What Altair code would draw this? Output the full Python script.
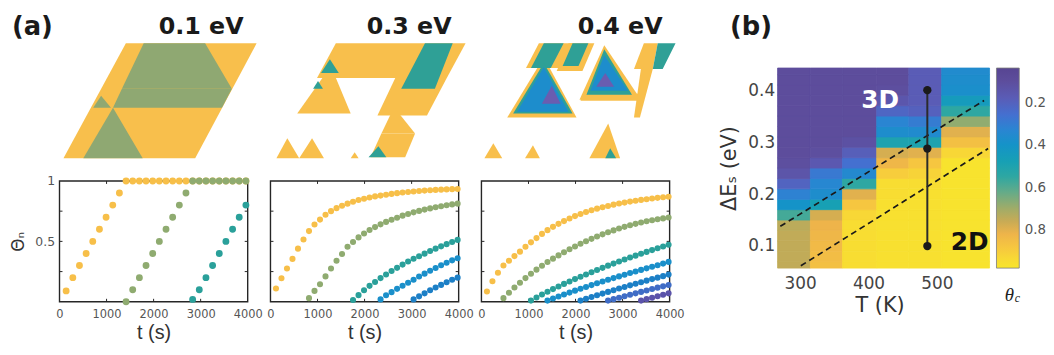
import altair as alt
import pandas as pd

SANS = "DejaVu Sans"
ARIAL = "Liberation Sans"

# ---------------- panel (a): growth curves ----------------
P1_T = [141, 283, 424, 566, 707, 849, 990, 1132, 1273, 1415, 1556, 1698, 1839, 1981,
        2122, 2264, 2405, 2547, 2688, 2830, 2971, 3113, 3254, 3396, 3537, 3679, 3820, 3962]
P1_YELLOW = [0.09, 0.2, 0.3, 0.4, 0.5, 0.6, 0.7, 0.8, 0.9, 1.0, 1.0, 1.0, 1.0, 1.0,
             1.0, 1.0, 1.0, 1.0, 1.0, 1.0, 1.0, 1.0, 1.0, 1.0, 1.0, 1.0, 1.0, 1.0]
P1_GREEN = [None] * 9 + [0.0, 0.1, 0.2, 0.3, 0.4, 0.5, 0.6, 0.7, 0.8, 0.9, 1.0,
                         1.0, 1.0, 1.0, 1.0, 1.0, 1.0, 1.0, 1.0]
P1_TEAL = [None] * 19 + [0.02, 0.1, 0.2, 0.3, 0.4, 0.5, 0.6, 0.7, 0.8]

P23_T = [117, 234, 351, 468, 585, 702, 819, 936, 1053, 1170, 1287, 1404, 1521, 1638,
         1755, 1872, 1989, 2106, 2223, 2340, 2457, 2574, 2691, 2808, 2925, 3042, 3159,
         3276, 3393, 3510, 3627, 3744, 3861, 3978]
P2_YELLOW = [0.11, 0.195, 0.275, 0.355, 0.44, 0.515, 0.585, 0.64, 0.68, 0.72, 0.75, 0.775,
             0.795, 0.812, 0.828, 0.842, 0.853, 0.863, 0.872, 0.879, 0.886, 0.893, 0.899,
             0.904, 0.909, 0.913, 0.917, 0.92, 0.923, 0.926, 0.928, 0.93, 0.932, 0.934]
P2_GREEN = [None] * 6 + [0.03, 0.09, 0.145, 0.21, 0.275, 0.34, 0.395, 0.455, 0.495, 0.533,
                         0.565, 0.594, 0.618, 0.641, 0.661, 0.679, 0.696, 0.713, 0.727,
                         0.74, 0.752, 0.763, 0.773, 0.782, 0.791, 0.799, 0.806, 0.812]
P2_TEAL = [None] * 14 + [0.015, 0.055, 0.095, 0.132, 0.164, 0.196, 0.226, 0.255, 0.281,
                         0.308, 0.333, 0.356, 0.377, 0.399, 0.42, 0.44, 0.459, 0.477,
                         0.495, 0.512]
P2_BLUE1 = [None] * 19 + [0.02, 0.054, 0.08, 0.107, 0.133, 0.158, 0.183, 0.209, 0.233,
                          0.257, 0.28, 0.302, 0.323, 0.343, 0.36]
P2_BLUE2 = [None] * 25 + [0.02, 0.045, 0.07, 0.095, 0.118, 0.14, 0.162, 0.183, 0.2]

P3_YELLOW = [0.085, 0.17, 0.24, 0.3, 0.34, 0.378, 0.415, 0.455, 0.492, 0.527, 0.562, 0.593,
             0.62, 0.645, 0.668, 0.689, 0.709, 0.726, 0.743, 0.757, 0.771, 0.782, 0.793,
             0.804, 0.813, 0.821, 0.829, 0.836, 0.843, 0.849, 0.855, 0.86, 0.865, 0.869]
P3_GREEN = [None] * 3 + [0.03, 0.075, 0.118, 0.158, 0.196, 0.232, 0.266, 0.298, 0.329,
                         0.357, 0.384, 0.41, 0.435, 0.458, 0.48, 0.501, 0.521, 0.54, 0.558,
                         0.575, 0.591, 0.606, 0.62, 0.633, 0.645, 0.656, 0.666, 0.675,
                         0.683, 0.69, 0.697]
P3_TEAL = [None] * 8 + [0.01, 0.035, 0.06, 0.083, 0.105, 0.127, 0.148, 0.168, 0.188, 0.207,
                        0.226, 0.245, 0.263, 0.281, 0.299, 0.316, 0.333, 0.35, 0.366, 0.382,
                        0.398, 0.413, 0.428, 0.443, 0.458, 0.472]
P3_BLUE1 = [None] * 11 + [0.01, 0.027, 0.044, 0.06, 0.076, 0.092, 0.108, 0.123, 0.138,
                          0.153, 0.168, 0.182, 0.196, 0.21, 0.224, 0.238, 0.251, 0.264,
                          0.277, 0.29, 0.303, 0.316, 0.33]
P3_BLUE2 = [None] * 17 + [0.01, 0.025, 0.04, 0.054, 0.068, 0.082, 0.096, 0.11, 0.123,
                          0.136, 0.149, 0.162, 0.175, 0.188, 0.2, 0.212, 0.225]
P3_BLUE3 = [None] * 22 + [0.01, 0.022, 0.034, 0.046, 0.058, 0.07, 0.082, 0.094, 0.106,
                          0.117, 0.128, 0.139]
P3_PURPLE = [None] * 28 + [0.01, 0.022, 0.034, 0.046, 0.058, 0.07]

SERIES_COLORS = {"yellow": "#f7bf49", "green": "#8fab70", "teal": "#2aa09a",
                 "blue1": "#1a8fca", "blue2": "#1c7fc6", "blue3": "#3f6cc6",
                 "purple": "#5b53aa"}

T_TICKS = [0, 1000, 2000, 3000, 4000]
T_INNER = [1000, 2000, 3000]
THETA_LABELS = [0.5, 1.0]
THETA_INNER = [0.25, 0.5, 0.75]
PANEL_LABELS = ["(a)", "(b)"]
MORPH_TITLES = ["0.1 eV", "0.3 eV", "0.4 eV"]

# ---------------- panel (a): morphologies (trapezoid pieces, image units) ----------------
# level: 0 yellow, 1 green, 2 teal, 3 blue, 4 purple
M1_LEVEL = [0, 1, 1, 1, 1]
M1_YT = [30, 30, 76, 83, 95]
M1_XLT = [67, 85, 63, 42, 54]
M1_XRT = [199, 147, 174, 42, 54]
M1_YB = [146, 76, 95, 95, 146]
M1_XLB = [4, 63, 54, 34, 24]
M1_XRB = [137, 174, 164, 52, 84]

M2_LEVEL = [0, 0, 0, 0, 0, 0, 0, 0, 2, 2, 2, 2]
M2_YT = [30, 65, 53, 96, 121, 126, 126, 140, 30, 46, 68, 134]
M2_XLT = [66, 126, 61, 124, 112, 17, 42, 85, 156, 60, 48, 109]
M2_XRT = [197, 178, 61, 126, 146, 17, 42, 85, 184, 60, 48, 109]
M2_YB = [65, 103, 101, 121, 145, 146, 146, 146, 76, 60, 76, 145]
M2_XLB = [47, 108, 27, 112, 101, 6, 29, 81, 132, 51, 43, 99]
M2_XRB = [178, 158, 81, 146, 136, 29, 54, 89, 166, 69, 53, 117]

M3_LEVEL = [0, 0, 0, 0, 0, 0, 0, 0, 0, 0, 2, 2, 2, 2, 2, 2, 3, 3, 4, 4]
M3_YT = [30, 44, 30, 32, 81, 30, 56, 131, 133, 111, 30, 50, 30, 36, 30, 136, 54, 42, 73, 60]
M3_XLT = [58, 63, 88, 124, 103, 164, 161, 12, 52, 128, 63, 63, 92, 124, 178, 130, 63, 124, 71, 125]
M3_XRT = [93, 63, 114, 124, 164, 178, 173, 12, 52, 128, 83, 63, 108, 124, 196, 130, 63, 124, 71, 125]
M3_YB = [55, 105, 58, 87, 88, 56, 105, 146, 146, 146, 55, 101, 53, 82, 56, 146, 99, 78, 91, 74]
M3_XLB = [45, 26, 76, 99, 100, 154, 154, 3, 44, 109, 50, 32, 82, 106, 173, 125, 36, 110, 61, 116]
M3_XRB = [80, 96, 102, 161, 164, 173, 160, 21, 59, 140, 70, 92, 98, 152, 183, 136, 88, 148, 80, 134]

MORPH_COLORS = ["#f8bf4c", "#8fa872", "#2fa096", "#1d8dcc", "#6a5db0"]

# ---------------- panel (b): phase diagram ----------------
HEAT_T_EDGES = [267, 315, 362, 412, 459, 507, 577]
HEAT_E_RANGE = [0.0575, 0.4425]
HEAT_E = [0.06, 0.08, 0.10, 0.12, 0.14, 0.16, 0.18, 0.20, 0.22, 0.24,
          0.26, 0.28, 0.30, 0.32, 0.34, 0.36, 0.38, 0.40, 0.42, 0.44]
HEAT_COL1 = [0.75, 0.75, 0.75, 0.75, 0.74, 0.58, 0.40, 0.32, 0.21, 0.14,
             0.11, 0.10, 0.10, 0.10, 0.10, 0.10, 0.10, 0.10, 0.10, 0.10]
HEAT_COL2 = [0.86, 0.85, 0.84, 0.83, 0.82, 0.78, 0.48, 0.37, 0.34, 0.29,
             0.16, 0.11, 0.10, 0.10, 0.10, 0.10, 0.10, 0.10, 0.10, 0.10]
HEAT_COL3 = [0.95, 0.95, 0.95, 0.95, 0.95, 0.93, 0.88, 0.80, 0.55, 0.35,
             0.26, 0.19, 0.12, 0.10, 0.10, 0.10, 0.10, 0.10, 0.10, 0.10]
HEAT_COL4 = [0.96, 0.96, 0.96, 0.96, 0.96, 0.96, 0.96, 0.95, 0.95, 0.90,
             0.83, 0.78, 0.50, 0.37, 0.33, 0.22, 0.15, 0.11, 0.10, 0.10]
HEAT_COL5 = [0.96, 0.96, 0.96, 0.96, 0.96, 0.96, 0.96, 0.96, 0.95, 0.92,
             0.88, 0.80, 0.50, 0.36, 0.30, 0.20, 0.18, 0.18, 0.18, 0.18]
HEAT_COL6 = [0.97, 0.97, 0.97, 0.97, 0.97, 0.97, 0.97, 0.97, 0.97, 0.97,
             0.97, 0.93, 0.86, 0.80, 0.68, 0.55, 0.45, 0.38, 0.37, 0.36]

CBAR_STOPS = [0.04, 0.10, 0.18, 0.26, 0.33, 0.40, 0.48, 0.55, 0.62, 0.70, 0.76, 0.82, 0.88, 0.94, 0.98]
CBAR_COLORS = ["#574592", "#5d4d9c", "#5a5cb6", "#4470d0", "#2a85d2", "#1593c8", "#17a0b4",
               "#2ea7a2", "#62ab8a", "#a0ac68", "#c8ab55", "#eeb44a", "#f6c640", "#f8da34", "#f8e62c"]
CBAR_TICKS = [0.2, 0.4, 0.6, 0.8]

DASH_ID = ["upper", "upper", "lower", "lower"]
DASH_T = [271, 569, 301, 575]
DASH_E = [0.138, 0.38, 0.062, 0.2876]
VLINE_T = [486, 486, 486]
VLINE_E = [0.1, 0.2876, 0.4]
REGION_T = [417, 548]
REGION_E = [0.381, 0.107]
REGION_TEXT = ["3D", "2D"]
REGION_COLORS = ["#ffffff", "#111111"]
HEAT_T_TICKS = [300, 400, 500]
HEAT_E_TICKS = [0.1, 0.2, 0.3, 0.4]

# ---------------- layout sizes (pixels) ----------------
PW, PH = 190, 122          # growth-curve frame
COL_H = 291                # morphology + growth column height
GAP = 23
PW3 = 276                  # last column widened to reach panel (b)
HW, HH = 214, 202          # heat map
HTOP = 55                  # space above heat map inside panel (b)
CW, CGAP = 23, 7           # colour bar
BW = HW + CGAP + CW
BH = HTOP + HH
FRAME = "#262626"


def morph_layer(level, yt, xlt, xrt, yb, xlb, xrb, title, title_x, width, label=None):
    rows = []
    for i, (lv, a, b, c, d, e, f) in enumerate(zip(level, yt, xlt, xrt, yb, xlb, xrb)):
        rows.append({"sid": i, "level": lv, "y": a, "xl": b, "xr": c})
        rows.append({"sid": i, "level": lv, "y": d, "xl": e, "xr": f})
    df = pd.DataFrame(rows)
    X = alt.X("xl:Q", scale=alt.Scale(domain=[0, width], nice=False, zero=False), axis=None, stack=None)
    Y = alt.Y("y:Q", scale=alt.Scale(domain=[0, COL_H], reverse=True, nice=False, zero=False), axis=None)
    layers = []
    for lv in sorted(set(level)):
        layers.append(alt.Chart(df).transform_filter(alt.datum.level == lv).mark_area(
            orient="horizontal", color=MORPH_COLORS[lv], opacity=1).encode(
            x=X, x2="xr:Q", y=Y, detail="sid:N"))
    tdf = pd.DataFrame({"label": [title]})
    layers.append(alt.Chart(tdf).mark_text(font=SANS, fontWeight="bold", fontSize=24,
                                           color="#1a1a1a", align="center", baseline="middle").encode(
        x=alt.value(title_x), y=alt.value(14), text="label:N"))
    if label is not None:
        ldf = pd.DataFrame({"label": [label]})
        layers.append(alt.Chart(ldf).mark_text(font=SANS, fontWeight="bold", fontSize=26,
                                               color="#1a1a1a", align="left", baseline="middle").encode(
            x=alt.value(-48), y=alt.value(14), text="label:N"))
    return alt.layer(*layers)


def growth_layer(t, series, show_y, size, width):
    rows = []
    for name, vals in series:
        for tt, v in zip(t, vals):
            if v is not None:
                rows.append({"t": tt, "theta": v, "series": name, "col": SERIES_COLORS[name]})
    df = pd.DataFrame(rows)
    sx = alt.Scale(domain=[0, 4000 * width / PW], nice=False, zero=False)
    sy = alt.Scale(domain=[0, COL_H / PH], nice=False, zero=False)
    xax = alt.Axis(values=T_TICKS, title="t (s)", format="d", labelFont=SANS,
                   labelFontSize=11.5, labelColor="#555", labelPadding=7,
                   labelFlush=False, labelOverlap=False, titleFont=ARIAL,
                   titleFontSize=20, titleFontWeight="normal", titleColor="#333",
                   titlePadding=3, titleX=PW / 2, ticks=False, domain=False, grid=False)
    if show_y:
        yax = alt.Axis(values=THETA_LABELS, format="~g", title="Θₙ", labelFont=SANS,
                       labelFontSize=12.5, labelColor="#555", labelPadding=5,
                       labelFlush=False, titleFont=SANS, titleFontSize=17,
                       titleFontWeight="normal", titleColor="#333", titlePadding=7,
                       titleY=COL_H - PH / 2, ticks=False, domain=False, grid=False)
    else:
        yax = None
    X = alt.X("t:Q", scale=sx, axis=xax)
    Y = alt.Y("theta:Q", scale=sy, axis=yax)
    tick_t = 3 * 4000 / PW
    tick_y = 3 / PH

    frame = alt.Chart(pd.DataFrame({"k": [0]})).mark_rect(
        fillOpacity=0, stroke=FRAME, strokeWidth=1.4).encode(
        x=alt.XDatum(0, type="quantitative", scale=sx, axis=xax),
        x2=alt.X2Datum(4000),
        y=alt.YDatum(0, type="quantitative", scale=sy, axis=yax),
        y2=alt.Y2Datum(1))
    xt = pd.DataFrame({"t": T_INNER})
    yt = pd.DataFrame({"theta": THETA_INNER})
    tb = alt.Chart(xt).mark_rule(color=FRAME, strokeWidth=1).encode(
        x=X, y=alt.YDatum(0, type="quantitative", scale=sy, axis=yax), y2=alt.Y2Datum(tick_y))
    tt_ = alt.Chart(xt).mark_rule(color=FRAME, strokeWidth=1).encode(
        x=X, y=alt.YDatum(1, type="quantitative", scale=sy, axis=yax), y2=alt.Y2Datum(1 - tick_y))
    tl = alt.Chart(yt).mark_rule(color=FRAME, strokeWidth=1).encode(
        y=Y, x=alt.XDatum(0, type="quantitative", scale=sx, axis=xax), x2=alt.X2Datum(tick_t))
    tr = alt.Chart(yt).mark_rule(color=FRAME, strokeWidth=1).encode(
        y=Y, x=alt.XDatum(4000, type="quantitative", scale=sx, axis=xax), x2=alt.X2Datum(4000 - tick_t))
    pts = alt.Chart(df).mark_circle(size=size, opacity=1).encode(
        x=X, y=Y, color=alt.Color("col:N", scale=None, legend=None))
    return alt.layer(frame, tb, tt_, tl, tr, pts)


def column(morph, growth, width):
    return alt.layer(morph, growth).resolve_scale(x="independent", y="independent").properties(
        width=width, height=COL_H, view=alt.ViewBackground(fill="white", strokeWidth=0))


c1 = column(morph_layer(M1_LEVEL, M1_YT, M1_XLT, M1_XRT, M1_YB, M1_XLB, M1_XRB,
                        MORPH_TITLES[0], 143, PW, PANEL_LABELS[0]),
            growth_layer(P1_T, [("yellow", P1_YELLOW), ("green", P1_GREEN), ("teal", P1_TEAL)],
                         True, 48, PW), PW)
c2 = column(morph_layer(M2_LEVEL, M2_YT, M2_XLT, M2_XRT, M2_YB, M2_XLB, M2_XRB,
                        MORPH_TITLES[1], 140, PW),
            growth_layer(P23_T, [("yellow", P2_YELLOW), ("green", P2_GREEN), ("teal", P2_TEAL),
                                 ("blue1", P2_BLUE1), ("blue2", P2_BLUE2)], False, 38, PW), PW)
c3 = column(morph_layer(M3_LEVEL, M3_YT, M3_XLT, M3_XRT, M3_YB, M3_XLB, M3_XRB,
                        MORPH_TITLES[2], 140, PW3),
            growth_layer(P23_T, [("yellow", P3_YELLOW), ("green", P3_GREEN), ("teal", P3_TEAL),
                                 ("blue1", P3_BLUE1), ("blue2", P3_BLUE2), ("blue3", P3_BLUE3),
                                 ("purple", P3_PURPLE)], False, 38, PW3), PW3)

# ---------- panel (b) ----------
heat_rows = []
cols = [HEAT_COL1, HEAT_COL2, HEAT_COL3, HEAT_COL4, HEAT_COL5, HEAT_COL6]
for ci, col in enumerate(cols):
    for e, v in zip(HEAT_E, col):
        heat_rows.append({"T0": HEAT_T_EDGES[ci], "T1": HEAT_T_EDGES[ci + 1],
                          "E0": max(e - 0.01, HEAT_E_RANGE[0]),
                          "E1": min(e + 0.01, HEAT_E_RANGE[1]), "val": v})
heat_df = pd.DataFrame(heat_rows)

t_lo, t_hi = HEAT_T_EDGES[0], HEAT_T_EDGES[-1]
e_lo, e_hi = HEAT_E_RANGE
hx_scale = alt.Scale(domain=[t_lo, t_lo + (t_hi - t_lo) * BW / HW], nice=False, zero=False)
hy_scale = alt.Scale(domain=[e_lo, e_lo + (e_hi - e_lo) * BH / HH], nice=False, zero=False)
hx_axis = alt.Axis(values=HEAT_T_TICKS, title="T (K)", format="d", labelFont=SANS,
                   labelFontSize=17, labelColor="#444", labelPadding=8, labelFlush=False,
                   titleFont=SANS, titleFontSize=21, titleFontWeight="normal",
                   titleColor="#333", titlePadding=3, titleX=103, ticks=False, domain=False, grid=False)
hy_axis = alt.Axis(values=HEAT_E_TICKS, title="ΔEₛ (eV)", format=".1f", labelFont=SANS,
                   labelFontSize=17, labelColor="#444", labelPadding=3, labelFlush=False,
                   titleFont=SANS, titleFontSize=21, titleFontWeight="normal",
                   titleColor="#333", titlePadding=8, titleY=HTOP + HH / 2,
                   ticks=False, domain=False, grid=False)


def HX(f):
    return alt.X(f, type="quantitative", scale=hx_scale, axis=hx_axis)


def HY(f):
    return alt.Y(f, type="quantitative", scale=hy_scale, axis=hy_axis)


heat_color = alt.Scale(domain=CBAR_STOPS, range=CBAR_COLORS, interpolate="rgb")
rects = alt.Chart(heat_df).mark_rect(strokeWidth=0.8).encode(
    x=HX("T0"), x2="T1:Q", y=HY("E0"), y2="E1:Q",
    color=alt.Color("val:Q", legend=None, scale=heat_color),
    stroke=alt.Stroke("val:Q", legend=None, scale=heat_color))
dash_df = pd.DataFrame({"id": DASH_ID, "T": DASH_T, "E": DASH_E})
dashes = alt.Chart(dash_df).mark_line(color="#1a1a1a", strokeWidth=1.7, strokeDash=[6, 4]).encode(
    x=HX("T"), y=HY("E"), detail="id:N")
vl_df = pd.DataFrame({"T": VLINE_T, "E": VLINE_E})
vline = alt.Chart(vl_df).mark_line(color="#2b2b2b", strokeWidth=2).encode(x=HX("T"), y=HY("E"))
vpts = alt.Chart(vl_df).mark_circle(color="#1a1a1a", size=70, opacity=1).encode(x=HX("T"), y=HY("E"))
reg_df = pd.DataFrame({"T": REGION_T, "E": REGION_E, "txt": REGION_TEXT, "col": REGION_COLORS})
reg_text = alt.Chart(reg_df).mark_text(font=SANS, fontWeight="bold", fontSize=25,
                                       align="center", baseline="middle").encode(
    x=HX("T"), y=HY("E"), text="txt:N", color=alt.Color("col:N", scale=None, legend=None))
b_df = pd.DataFrame({"label": [PANEL_LABELS[1]]})
b_label = alt.Chart(b_df).mark_text(font=SANS, fontWeight="bold", fontSize=26, color="#1a1a1a",
                                    align="left", baseline="middle").encode(
    x=alt.value(-48), y=alt.value(14), text="label:N")
heat_layer = alt.layer(rects, dashes, vline, vpts, reg_text, b_label)

c_lo, c_hi = CBAR_STOPS[0], CBAR_STOPS[-1]
c_px = HH / (c_hi - c_lo)
cb_scale = alt.Scale(domain=[c_lo - HTOP / c_px, c_hi], reverse=True, nice=False, zero=False)
cb_axis = alt.Axis(orient="right", values=CBAR_TICKS, format=".1f", title=None,
                   labelFont=SANS, labelFontSize=13.5, labelColor="#555",
                   labelPadding=5, ticks=False, domain=False, grid=False, labelFlush=False)
grad = {"gradient": "linear", "x1": 0, "x2": 0, "y1": 0, "y2": 1,
        "stops": [{"offset": (v - c_lo) / (c_hi - c_lo), "color": c}
                  for v, c in zip(CBAR_STOPS, CBAR_COLORS)]}
cb_df = pd.DataFrame({"k": [0]})
cbar_rect = alt.Chart(cb_df).mark_rect(fill=grad, stroke="#7a7a7a", strokeWidth=0.8).encode(
    y=alt.YDatum(c_lo, type="quantitative", scale=cb_scale, axis=cb_axis),
    y2=alt.Y2Datum(c_hi), x=alt.value(HW + CGAP), x2=alt.value(BW))
theta_t = alt.Chart(cb_df).mark_text(text="θ", font="Liberation Serif", fontStyle="italic",
                                     fontSize=19, color="#222", align="center",
                                     baseline="middle").encode(
    x=alt.value(HW + CGAP + 13), y=alt.value(BH + 27))
theta_c = alt.Chart(cb_df).mark_text(text="c", font="Liberation Serif", fontStyle="italic",
                                     fontSize=12, color="#222", align="center",
                                     baseline="middle").encode(
    x=alt.value(HW + CGAP + 21), y=alt.value(BH + 30))
cbar_layer = alt.layer(cbar_rect, theta_t, theta_c)

panel_b = alt.layer(heat_layer, cbar_layer).resolve_scale(y="independent").properties(
    width=BW, height=BH, view=alt.ViewBackground(fill="white", strokeWidth=0))

chart = alt.hconcat(c1, c2, c3, panel_b, spacing=GAP, bounds="flush").properties(
    padding={"left": 2, "top": 4, "right": 0, "bottom": 0}
).configure(font=SANS).configure_view(strokeWidth=0)

chart.save("out.html", embed_options={"renderer": "svg", "actions": False})
